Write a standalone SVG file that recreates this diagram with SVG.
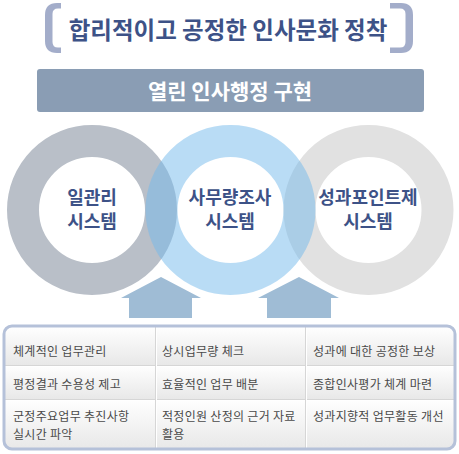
<svg xmlns="http://www.w3.org/2000/svg" width="459" height="454" viewBox="0 0 459 454">
<defs>
<style>
.t{font-family:"Noto Sans CJK KR","Noto Sans",sans-serif}
.title{font-size:23.5px;font-weight:700;fill:#3d5287}
.bar{font-size:21px;font-weight:700;fill:#ffffff}
.ct{font-size:18px;font-weight:700;fill:#3d5287}
.cell{font-size:12px;letter-spacing:0.3px;fill:#4a4a4a}
.brk{fill:#a3adca}
.arrow{fill:#9fbcd5;stroke:#ffffff;stroke-width:3;paint-order:stroke;stroke-linejoin:miter}
.sep{stroke:#d6d6d6;stroke-width:1}
.sepw{stroke:#ffffff;stroke-width:1}
</style>
<linearGradient id="rowg" x1="0" y1="0" x2="0" y2="1">
<stop offset="0" stop-color="#ffffff"/>
<stop offset="1" stop-color="#e8e8e8"/>
</linearGradient>
<clipPath id="tclip"><rect x="4" y="326" width="451" height="123" rx="8"/></clipPath>
</defs>
<rect width="459" height="454" fill="#ffffff"/>

<g id="title">
<path class="brk" d="M61 3 H57 Q45 3 45 15 V41 Q45 53 57 53 H61 V47.5 H58 Q52.5 47.5 52.5 42 V14 Q52.5 8.5 58 8.5 H61 Z"/>
<path class="brk" d="M390 3 H401 Q413 3 413 15 V41 Q413 53 401 53 H390 V47.5 H400 Q405.5 47.5 405.5 42 V14 Q405.5 8.5 400 8.5 H390 Z"/>
<text class="t title" x="228" y="39" text-anchor="middle">합리적이고 공정한 인사문화 정착</text>
</g>

<g id="banner">
<rect x="37" y="69" width="387" height="43" rx="3" fill="#8a9db4"/>
<text class="t bar" x="230" y="98.5" text-anchor="middle">열린 인사행정 구현</text>
</g>

<g id="circle-left">
<circle cx="92" cy="210" r="69" fill="none" stroke="#b9bfc8" stroke-width="32"/>
<text class="t ct" x="92" y="204" text-anchor="middle">일관리</text>
<text class="t ct" x="92" y="228" text-anchor="middle">시스템</text>
</g>

<g id="circle-right">
<circle cx="368.5" cy="210" r="69" fill="none" stroke="#e1e1e1" stroke-width="32"/>
<text class="t ct" x="368" y="204" text-anchor="middle">성과포인트제</text>
<text class="t ct" x="368" y="228" text-anchor="middle">시스템</text>
</g>

<g id="circle-middle">
<circle cx="230.5" cy="210" r="69" fill="none" stroke="#73b9eb" stroke-opacity="0.5" stroke-width="32"/>
<text class="t ct" x="230" y="204" text-anchor="middle">사무량조사</text>
<text class="t ct" x="230" y="228" text-anchor="middle">시스템</text>
</g>

<g id="connectors">
<polygon class="arrow" points="161,277 201,298 192,298 192,318 129,318 129,298 121,298"/>
<polygon class="arrow" points="299,277 339,298 331,298 331,318 267,318 267,298 258,298"/>
</g>

<g id="table">
<g clip-path="url(#tclip)">
<rect x="4" y="326" width="451" height="39" fill="url(#rowg)"/>
<rect x="4" y="365" width="451" height="34" fill="url(#rowg)"/>
<rect x="4" y="399" width="451" height="50" fill="url(#rowg)"/>
<line class="sep" x1="4" y1="365.5" x2="455" y2="365.5"/>
<line class="sepw" x1="4" y1="366.5" x2="455" y2="366.5"/>
<line class="sep" x1="4" y1="399.5" x2="455" y2="399.5"/>
<line class="sepw" x1="4" y1="400.5" x2="455" y2="400.5"/>
<line class="sep" x1="155.5" y1="326" x2="155.5" y2="449"/>
<line class="sepw" x1="156.5" y1="326" x2="156.5" y2="449"/>
<line class="sep" x1="305.5" y1="326" x2="305.5" y2="449"/>
<line class="sepw" x1="306.5" y1="326" x2="306.5" y2="449"/>
</g>
<rect x="4" y="326" width="451" height="123" rx="8" fill="none" stroke="#b5c1d9" stroke-width="3"/>
<text class="t cell" x="13" y="356">체계적인 업무관리</text>
<text class="t cell" x="162" y="356">상시업무량 체크</text>
<text class="t cell" x="313" y="356">성과에 대한 공정한 보상</text>
<text class="t cell" x="13" y="389">평정결과 수용성 제고</text>
<text class="t cell" x="162" y="389">효율적인 업무 배분</text>
<text class="t cell" x="313" y="389">종합인사평가 체계 마련</text>
<text class="t cell" x="13" y="420.5">군정주요업무 추진사항</text>
<text class="t cell" x="13" y="438.5">실시간 파악</text>
<text class="t cell" x="162" y="420.5">적정인원 산정의 근거 자료</text>
<text class="t cell" x="162" y="438.5">활용</text>
<text class="t cell" x="313" y="420.5">성과지향적 업무활동 개선</text>
</g>
</svg>
